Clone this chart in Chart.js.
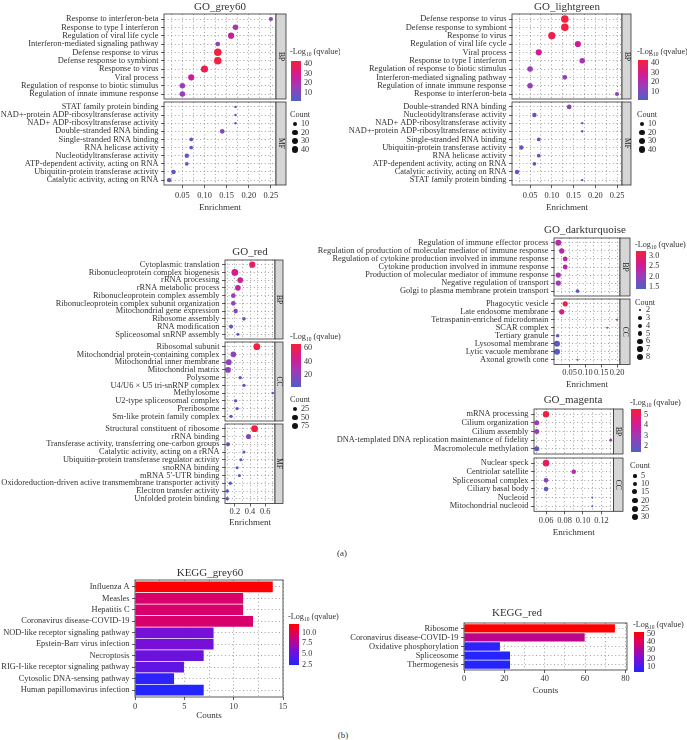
<!DOCTYPE html>
<html>
<head>
<meta charset="utf-8">
<script src="https://cdn.jsdelivr.net/npm/chart.js@4.4.1/dist/chart.umd.min.js"></script>
<style>
  body { margin: 0; background: #fff; width: 687px; height: 740px; position: relative; overflow: hidden;
         font-family: "Liberation Serif", "DejaVu Serif", serif; color: #333; }
  canvas { position: absolute; }
  .t { position: absolute; white-space: nowrap; line-height: 1; }
  .s { font-size: 5.5px; position: relative; top: 2px; }
  .dot { position: absolute; border-radius: 50%; background: #111; }
  .bar { position: absolute; }
</style>
</head>
<body>
<script>
// ---- GO_grey60 ----
const grey60BpTerms = ['Response to interferon-beta', 'Response to type I interferon', 'Regulation of viral life cycle',
  'Interferon-mediated signaling pathway', 'Defense response to virus', 'Defense response to symbiont', 'Response to virus',
  'Viral process', 'Regulation of response to biotic stimulus', 'Regulation of innate immune response'];
const grey60BpEnrich = [0.25, 0.17, 0.16, 0.13, 0.13, 0.13, 0.10, 0.07, 0.05, 0.05];
const grey60BpLogQ = [14, 19, 27, 15, 42, 42, 40, 27, 16, 16];
const grey60BpCount = [10, 22, 29, 14, 51, 51, 44, 29, 22, 22];
const grey60MfTerms = ['STAT family protein binding', 'NAD+-protein ADP-ribosyltransferase activity',
  'NAD+ ADP-ribosyltransferase activity', 'Double-stranded RNA binding', 'Single-stranded RNA binding',
  'RNA helicase activity', 'Nucleotidyltransferase activity', 'ATP-dependent activity, acting on RNA',
  'Ubiquitin-protein transferase activity', 'Catalytic activity, acting on RNA'];
const grey60MfEnrich = [0.17, 0.17, 0.17, 0.14, 0.07, 0.07, 0.06, 0.06, 0.03, 0.02];
const grey60MfLogQ = [4, 4, 4, 13, 4, 5, 5, 4, 5, 5];
const grey60MfCount = [5, 5, 5, 14, 8, 8, 12, 8, 12, 12];

// ---- GO_lightgreen ----
const lightgreenBpTerms = ['Defense response to virus', 'Defense response to symbiont', 'Response to virus',
  'Regulation of viral life cycle', 'Viral process', 'Response to type I interferon',
  'Regulation of response to biotic stimulus', 'Interferon-mediated signaling pathway',
  'Regulation of innate immune response', 'Response to interferon-beta'];
const lightgreenBpEnrich = [0.13, 0.13, 0.10, 0.16, 0.07, 0.17, 0.05, 0.13, 0.05, 0.25];
const lightgreenBpLogQ = [42, 42, 40, 27, 27, 19, 16, 15, 16, 14];
const lightgreenBpCount = [51, 51, 44, 29, 29, 22, 22, 14, 22, 10];
const lightgreenMfTerms = ['Double-stranded RNA binding', 'Nucleotidyltransferase activity',
  'NAD+ ADP-ribosyltransferase activity', 'NAD+-protein ADP-ribosyltransferase activity', 'Single-stranded RNA binding',
  'Ubiquitin-protein transferase activity', 'RNA helicase activity', 'ATP-dependent activity, acting on RNA',
  'Catalytic activity, acting on RNA', 'STAT family protein binding'];
const lightgreenMfEnrich = [0.14, 0.06, 0.17, 0.17, 0.07, 0.03, 0.07, 0.06, 0.02, 0.17];
const lightgreenMfLogQ = [13, 5, 4, 4, 4, 5, 5, 4, 5, 4];
const lightgreenMfCount = [14, 12, 5, 5, 8, 12, 8, 8, 12, 5];

// ---- GO_red ----
const redBpTerms = ['Cytoplasmic translation', 'Ribonucleoprotein complex biogenesis', 'rRNA processing',
  'rRNA metabolic process', 'Ribonucleoprotein complex assembly', 'Ribonucleoprotein complex subunit organization',
  'Mitochondrial gene expression', 'Ribosome assembly', 'RNA modification', 'Spliceosomal snRNP assembly'];
const redBpEnrich = [0.43, 0.20, 0.27, 0.24, 0.18, 0.18, 0.21, 0.32, 0.15, 0.24];
const redBpLogQ = [55, 45, 40, 36, 22, 22, 18, 10, 8, 5];
const redBpCount = [57, 74, 43, 43, 27, 27, 24, 13, 18, 8];
const redCcTerms = ['Ribosomal subunit', 'Mitochondrial protein-containing complex', 'Mitochondrial inner membrane',
  'Mitochondrial matrix', 'Polysome', 'U4/U6 × U5 tri-snRNP complex', 'Methylosome', 'U2-type spliceosomal complex',
  'Preribosome', 'Sm-like protein family complex'];
const redCcEnrich = [0.49, 0.18, 0.12, 0.11, 0.27, 0.32, 0.70, 0.21, 0.23, 0.15];
const redCcLogQ = [65, 22, 20, 20, 6, 6, 4, 6, 6, 6];
const redCcCount = [74, 43, 47, 47, 11, 11, 6, 11, 11, 11];
const redMfTerms = ['Structural constituent of ribosome', 'rRNA binding', 'Transferase activity, transferring one-carbon groups',
  'Catalytic activity, acting on a rRNA', 'Ubiquitin-protein transferase regulator activity', 'snoRNA binding',
  'mRNA 5′-UTR binding', 'Oxidoreduction-driven active transmembrane transporter activity', 'Electron transfer activity',
  'Unfolded protein binding'];
const redMfEnrich = [0.46, 0.38, 0.11, 0.32, 0.28, 0.23, 0.26, 0.14, 0.10, 0.10];
const redMfLogQ = [64, 18, 6, 5, 4, 4, 4, 5, 5, 5];
const redMfCount = [74, 34, 18, 8, 8, 8, 8, 11, 11, 11];

// ---- GO_darkturquoise ----
const turqBpTerms = ['Regulation of immune effector process', 'Regulation of production of molecular mediator of immune response',
  'Regulation of cytokine production involved in immune response', 'Cytokine production involved in immune response',
  'Production of molecular mediator of immune response', 'Negative regulation of transport',
  'Golgi to plasma membrane protein transport'];
const turqBpEnrich = [0.014, 0.025, 0.036, 0.036, 0.014, 0.014, 0.075];
const turqBpLogQ = [2.3, 2.35, 2.4, 2.4, 2.2, 2.1, 1.5];
const turqBpCount = [8, 6, 5, 5, 6, 6, 3];
const turqCcTerms = ['Phagocytic vesicle', 'Late endosome membrane', 'Tetraspanin-enriched microdomain', 'SCAR complex',
  'Tertiary granule', 'Lysosomal membrane', 'Lytic vacuole membrane', 'Axonal growth cone'];
const turqCcEnrich = [0.036, 0.025, 0.20, 0.169, 0.012, 0.01, 0.01, 0.075];
const turqCcLogQ = [3.15, 2.7, 2.2, 2.2, 1.6, 1.5, 1.5, 1.45];
const turqCcCount = [6, 6, 2, 2, 3, 8, 8, 2];

// ---- GO_magenta ----
const magentaBpTerms = ['mRNA processing', 'Cilium organization', 'Cilium assembly',
  'DNA-templated DNA replication maintenance of fidelity', 'Macromolecule methylation'];
const magentaBpEnrich = [0.06, 0.05, 0.05, 0.13, 0.05];
const magentaBpLogQ = [5.4, 3.0, 2.9, 2.6, 1.8];
const magentaBpCount = [28, 15, 15, 4, 15];
const magentaCcTerms = ['Nuclear speck', 'Centriolar satellite', 'Spliceosomal complex', 'Ciliary basal body',
  'Nucleoid', 'Mitochondrial nucleoid'];
const magentaCcEnrich = [0.06, 0.09, 0.06, 0.06, 0.11, 0.11];
const magentaCcLogQ = [5.0, 3.4, 2.5, 1.7, 1.5, 1.5];
const magentaCcCount = [31, 12, 13, 12, 3, 3];

// ---- KEGG ----
const keggGreyTerms = ['Influenza A', 'Measles', 'Hepatitis C', 'Coronavirus disease-COVID-19',
  'NOD-like receptor signaling pathway', 'Epstein-Barr virus infection', 'Necroptosis',
  'RIG-I-like receptor signaling pathway', 'Cytosolic DNA-sensing pathway', 'Human papillomavirus infection'];
const keggGreyCounts = [14, 11, 11, 12, 8, 8, 7, 5, 4, 7];
const keggGreyLogQ = [11.9, 9.3, 9.3, 9.3, 5.6, 5.6, 5.2, 4.8, 2.8, 2.4];
const keggRedTerms = ['Ribosome', 'Coronavirus disease-COVID-19', 'Oxidative phosphorylation', 'Spliceosome', 'Thermogenesis'];
const keggRedCounts = [75, 60, 18, 23, 23];
const keggRedLogQ = [52, 33, 6, 4, 4];

// ---- helpers ----
const FONT = "'Liberation Serif', 'DejaVu Serif', serif";
const GRID = '#8a8a8a';
const LABEL = 8.4;
const dotStops = [[0, '#4f5ec6'], [0.35, '#9a3db8'], [0.62, '#cf1b99'], [1, '#f6203a']];
const barStops = [[0, '#2424ff'], [0.35, '#7a0fd6'], [0.72, '#d8006a'], [1, '#ff0000']];
Chart.defaults.font.family = FONT;
Chart.defaults.color = '#333';

const hexRgb = h => [1, 3, 5].map(i => parseInt(h.slice(i, i + 2), 16));
function colorAt(stops, t) {
  t = Math.max(0, Math.min(1, t));
  for (let i = 1; i < stops.length; i++) {
    if (t <= stops[i][0]) {
      const [t0, c0] = stops[i - 1], [t1, c1] = stops[i];
      const k = (t - t0) / (t1 - t0), a = hexRgb(c0), b = hexRgb(c1);
      return `rgb(${a.map((v, j) => Math.round(v + (b[j] - v) * k)).join(',')})`;
    }
  }
  return stops[stops.length - 1][1];
}
const colorFor = (v, lim, stops) => colorAt(stops, (v - lim[0]) / (lim[1] - lim[0]));
const radiusFor = (c, s) => s.rMin + (s.rMax - s.rMin) * Math.sqrt(Math.max(0, Math.min(1, (c - s.cMin) / (s.cMax - s.cMin))));

function txt(html, x, y, size, align) {
  const d = document.createElement('div');
  d.className = 't';
  d.innerHTML = html;
  d.style.left = x + 'px';
  d.style.top = y + 'px';
  d.style.fontSize = size + 'px';
  const tx = align === 'center' ? '-50%' : align === 'right' ? '-100%' : '0';
  d.style.transform = `translate(${tx}, -50%)`;
  document.body.appendChild(d);
  return d;
}
function mkCanvas(left, top, w, h) {
  const c = document.createElement('canvas');
  c.width = Math.round(w); c.height = Math.round(h);
  c.style.left = left + 'px'; c.style.top = top + 'px';
  document.body.appendChild(c);
  return c;
}

// panel border + facet strip
const framePlugin = {
  id: 'frame',
  afterDraw(chart, args, o) {
    const {ctx, chartArea: a} = chart;
    ctx.save();
    ctx.strokeStyle = '#333';
    ctx.lineWidth = 0.8;
    ctx.strokeRect(a.left, a.top, a.right - a.left, a.bottom - a.top);
    if (o.strip) {
      ctx.fillStyle = '#d6d6d6';
      ctx.fillRect(a.right, a.top, o.stripW, a.bottom - a.top);
      ctx.strokeRect(a.right, a.top, o.stripW, a.bottom - a.top);
      ctx.translate(a.right + o.stripW / 2, (a.top + a.bottom) / 2);
      ctx.rotate(Math.PI / 2);
      ctx.fillStyle = '#222';
      ctx.font = `7.5px ${FONT}`;
      ctx.textAlign = 'center';
      ctx.textBaseline = 'middle';
      ctx.fillText(o.strip, 0, 0);
    }
    ctx.restore();
  }
};
Chart.register(framePlugin);

function xScale(p, show, axisH) {
  const all = p.majors.concat(p.minors).sort((a, b) => a - b);
  return {
    type: 'linear', bounds: 'data', min: p.xMin, max: p.xMax,
    afterBuildTicks: s => { s.ticks = all.map(v => ({value: v})); },
    afterFit: s => { s.height = axisH; },
    grid: {color: GRID, lineWidth: 0.8, drawTicks: show, tickLength: 3,
      tickColor: c => (c.tick && p.majors.includes(c.tick.value)) ? '#333' : 'rgba(0,0,0,0)'},
    border: {display: false, dash: [1, 2.6]},
    ticks: {display: show, padding: p.tickPad, font: {size: LABEL}, color: '#333', maxRotation: 0, autoSkip: false,
      callback: v => p.majors.includes(v) ? p.fmt(v) : ''},
    title: {display: show, text: p.xTitle, font: {size: 9}, color: '#333', padding: 0}
  };
}
function yScale(terms, labelW) {
  return {
    type: 'linear', bounds: 'data', reverse: true, min: -0.6, max: terms.length - 0.4, offset: false,
    afterBuildTicks: s => { s.ticks = terms.map((t, i) => ({value: i})); },
    afterFit: s => { s.width = labelW; },
    grid: {color: GRID, lineWidth: 0.8, offset: false, drawTicks: true, tickLength: 3, tickColor: '#333'},
    border: {display: false, dash: [1, 2.6]},
    ticks: {autoSkip: false, padding: 2.5, font: {size: LABEL}, color: '#333', callback: v => terms[v]}
  };
}

function dotFacet(p, f, isLast) {
  const padTop = 10, padBot = isLast ? 1 : 10, padRight = p.stripW + 4;
  const labelW = p.plotLeft - p.canvasLeft;
  const plotW = p.plotRight - p.plotLeft, plotH = f.bottom - f.top;
  const axisH = isLast ? p.axisH : 0;
  const cv = mkCanvas(p.canvasLeft, f.top - padTop, labelW + plotW + padRight, padTop + plotH + axisH + padBot);
  new Chart(cv, {
    type: 'bubble',
    data: {datasets: [{
      data: f.terms.map((t, i) => ({x: f.enrich[i], y: i, r: radiusFor(f.count[i], p.size)})),
      backgroundColor: f.logq.map(v => colorFor(v, p.lim, dotStops)),
      borderWidth: 0
    }]},
    options: {
      responsive: false, animation: false, events: [],
      layout: {padding: {top: padTop, bottom: padBot, left: 0, right: padRight}},
      plugins: {legend: {display: false}, tooltip: {enabled: false}, frame: {strip: f.name, stripW: p.stripW}},
      scales: {x: xScale(p, isLast, axisH), y: yScale(f.terms, labelW)}
    }
  });
}

function barPanel(p) {
  const padTop = 10, padBot = 1, padRight = 8;
  const labelW = p.plotLeft - p.canvasLeft;
  const cv = mkCanvas(p.canvasLeft, p.top - padTop, labelW + p.plotRight - p.plotLeft + padRight,
    padTop + p.bottom - p.top + p.axisH + padBot);
  new Chart(cv, {
    type: 'bar',
    data: {datasets: [{
      data: p.terms.map((t, i) => ({x: p.counts[i], y: i})),
      backgroundColor: p.logq.map(v => colorFor(v, p.lim, barStops)),
      borderColor: 'rgba(255,255,255,0.75)', borderWidth: 0.7,
      barPercentage: 1, categoryPercentage: 1
    }]},
    options: {
      indexAxis: 'y', responsive: false, animation: false, events: [],
      layout: {padding: {top: padTop, bottom: padBot, left: 0, right: padRight}},
      plugins: {legend: {display: false}, tooltip: {enabled: false}, frame: {}},
      scales: {x: xScale(p, true, p.axisH), y: yScale(p.terms, labelW)}
    }
  });
}

function colorLegend(o) {
  const t = txt('-Log<span class="s">10</span> (qvalue)', o.x, o.titleY, 8.2, 'left');
  if (o.clipW) { t.style.width = o.clipW + 'px'; t.style.overflow = 'hidden'; }
  const bar = document.createElement('div');
  bar.className = 'bar';
  const grad = [];
  for (let i = 0; i <= 10; i++) grad.push(colorAt(o.stops, i / 10) + ' ' + (i * 10) + '%');
  Object.assign(bar.style, {left: (o.x + 1) + 'px', top: o.barTop + 'px', width: '10px',
    height: (o.barBottom - o.barTop) + 'px', background: `linear-gradient(to top, ${grad.join(',')})`});
  document.body.appendChild(bar);
  o.breaks.forEach(b => {
    const y = o.barBottom - (b - o.lim[0]) / (o.lim[1] - o.lim[0]) * (o.barBottom - o.barTop);
    txt(o.fmt ? o.fmt(b) : String(b), o.x + 14, y, 8.2, 'left');
  });
}
function sizeLegend(o) {
  txt('Count', o.x, o.titleY, 8.2, 'left');
  o.breaks.forEach((b, i) => {
    const r = radiusFor(b, o.size);
    const d = document.createElement('div');
    d.className = 'dot';
    Object.assign(d.style, {left: (o.x + 5 - r) + 'px', top: (o.ys[i] - r) + 'px', width: 2 * r + 'px', height: 2 * r + 'px'});
    document.body.appendChild(d);
    txt(String(b), o.x + 11, o.ys[i], 8.2, 'left');
  });
}

// ---- build ----
const f2 = v => v.toFixed(2);
const greySize = {cMin: 5, cMax: 55, rMin: 1.2, rMax: 3.9};

const grey60 = {canvasLeft: 0, plotLeft: 164, plotRight: 276, stripW: 10, xMin: 0.0085, xMax: 0.2615,
  majors: [0.05, 0.10, 0.15, 0.20, 0.25], minors: [0.025, 0.075, 0.125, 0.175, 0.225], fmt: f2,
  tickPad: 3, axisH: 28, xTitle: 'Enrichment', lim: [2, 43], size: greySize};
dotFacet(grey60, {name: 'BP', top: 14, bottom: 99, terms: grey60BpTerms, enrich: grey60BpEnrich, logq: grey60BpLogQ, count: grey60BpCount}, false);
dotFacet(grey60, {name: 'MF', top: 102, bottom: 185, terms: grey60MfTerms, enrich: grey60MfEnrich, logq: grey60MfLogQ, count: grey60MfCount}, true);
txt('GO_grey60', 220, 6, 11, 'center');
colorLegend({x: 290, titleY: 52, barTop: 61, barBottom: 101, lim: grey60.lim, breaks: [10, 20, 30, 40], stops: dotStops, clipW: 50});
sizeLegend({x: 290, titleY: 115, ys: [124, 132.5, 141, 149.5], breaks: [10, 20, 30, 40], size: greySize});

const lightgreen = Object.assign({}, grey60, {canvasLeft: 320, plotLeft: 512, plotRight: 622, stripW: 9});
dotFacet(lightgreen, {name: 'BP', top: 14, bottom: 99, terms: lightgreenBpTerms, enrich: lightgreenBpEnrich, logq: lightgreenBpLogQ, count: lightgreenBpCount}, false);
dotFacet(lightgreen, {name: 'MF', top: 102, bottom: 185, terms: lightgreenMfTerms, enrich: lightgreenMfEnrich, logq: lightgreenMfLogQ, count: lightgreenMfCount}, true);
txt('GO_lightgreen', 567, 6, 11, 'center');
colorLegend({x: 637, titleY: 52, barTop: 60, barBottom: 100, lim: lightgreen.lim, breaks: [10, 20, 30, 40], stops: dotStops});
sizeLegend({x: 637, titleY: 115, ys: [124, 132.5, 141, 149.5], breaks: [10, 20, 30, 40], size: greySize});

const redSize = {cMin: 5, cMax: 80, rMin: 1, rMax: 3.5};
const red = {canvasLeft: 0, plotLeft: 225, plotRight: 275, stripW: 8, xMin: 0.07, xMax: 0.73,
  majors: [0.2, 0.4, 0.6], minors: [0.1, 0.3, 0.5, 0.7], fmt: v => v.toFixed(1),
  tickPad: 0.5, axisH: 24.5, xTitle: 'Enrichment', lim: [1.4, 66.5], size: redSize};
dotFacet(red, {name: 'BP', top: 260, bottom: 339, terms: redBpTerms, enrich: redBpEnrich, logq: redBpLogQ, count: redBpCount}, false);
dotFacet(red, {name: 'CC', top: 342, bottom: 421, terms: redCcTerms, enrich: redCcEnrich, logq: redCcLogQ, count: redCcCount}, false);
dotFacet(red, {name: 'MF', top: 424, bottom: 503, terms: redMfTerms, enrich: redMfEnrich, logq: redMfLogQ, count: redMfCount}, true);
txt('GO_red', 250, 251, 11, 'center');
colorLegend({x: 290, titleY: 337, barTop: 344, barBottom: 387, lim: red.lim, breaks: [20, 40, 60], stops: dotStops});
sizeLegend({x: 290, titleY: 400, ys: [409, 417.5, 426], breaks: [25, 50, 75], size: redSize});

const turqSize = {cMin: 2, cMax: 8, rMin: 1, rMax: 3};
const turq = {canvasLeft: 290, plotLeft: 554, plotRight: 620, stripW: 10, xMin: 0.0005, xMax: 0.2095,
  majors: [0.05, 0.10, 0.15, 0.20], minors: [0.025, 0.075, 0.125, 0.175], fmt: f2,
  tickPad: 0, axisH: 25.5, xTitle: 'Enrichment', lim: [1.41, 3.22], size: turqSize};
dotFacet(turq, {name: 'BP', top: 237.5, bottom: 295.5, terms: turqBpTerms, enrich: turqBpEnrich, logq: turqBpLogQ, count: turqBpCount}, false);
dotFacet(turq, {name: 'CC', top: 298.5, bottom: 363.5, terms: turqCcTerms, enrich: turqCcEnrich, logq: turqCcLogQ, count: turqCcCount}, true);
txt('GO_darkturquoise', 585, 229, 11, 'center');
colorLegend({x: 635, titleY: 245, barTop: 251, barBottom: 289, lim: turq.lim, breaks: [1.5, 2.0, 2.5, 3.0], stops: dotStops, fmt: v => v.toFixed(1)});
sizeLegend({x: 635, titleY: 302.7, ys: [310, 318, 326, 333.7, 341.3, 349, 357], breaks: [2, 3, 4, 5, 6, 7, 8], size: turqSize});

const magentaSize = {cMin: 3, cMax: 31, rMin: 1, rMax: 3.3};
const magenta = {canvasLeft: 300, plotLeft: 534, plotRight: 613, stripW: 9.5, xMin: 0.047, xMax: 0.133,
  majors: [0.06, 0.08, 0.10, 0.12], minors: [0.05, 0.07, 0.09, 0.11, 0.13], fmt: f2,
  tickPad: 1.5, axisH: 26.7, xTitle: 'Enrichment', lim: [1.42, 5.58], size: magentaSize};
dotFacet(magenta, {name: 'BP', top: 409.3, bottom: 454.3, terms: magentaBpTerms, enrich: magentaBpEnrich, logq: magentaBpLogQ, count: magentaBpCount}, false);
dotFacet(magenta, {name: 'CC', top: 457.7, bottom: 510.7, terms: magentaCcTerms, enrich: magentaCcEnrich, logq: magentaCcLogQ, count: magentaCcCount}, true);
txt('GO_magenta', 573, 399, 11, 'center');
colorLegend({x: 630, titleY: 403, barTop: 409, barBottom: 452, lim: magenta.lim, breaks: [2, 3, 4, 5], stops: dotStops});
sizeLegend({x: 630, titleY: 465.7, ys: [476, 484, 492, 500.5, 508.7, 517], breaks: [5, 10, 15, 20, 25, 30], size: magentaSize});

txt('(a)', 342, 553, 9, 'center');

barPanel({canvasLeft: 0, plotLeft: 135, plotRight: 283, top: 580, bottom: 697, xMin: 0, xMax: 15,
  majors: [0, 5, 10, 15], minors: [2.5, 7.5, 12.5], fmt: v => String(v), tickPad: 2.2, axisH: 24, xTitle: 'Counts',
  lim: [2.4, 12], terms: keggGreyTerms, counts: keggGreyCounts, logq: keggGreyLogQ});
txt('KEGG_grey60', 210, 572, 11, 'center');
colorLegend({x: 288, titleY: 617, barTop: 624, barBottom: 665, lim: [2.4, 12], breaks: [2.5, 5, 7.5, 10], stops: barStops, fmt: v => v.toFixed(1)});

barPanel({canvasLeft: 345, plotLeft: 464, plotRight: 627, top: 623, bottom: 670, xMin: 0, xMax: 80.8,
  majors: [0, 20, 40, 60, 80], minors: [10, 30, 50, 70], fmt: v => String(v), tickPad: 1.2, axisH: 26, xTitle: 'Counts',
  lim: [4, 52], terms: keggRedTerms, counts: keggRedCounts, logq: keggRedLogQ});
txt('KEGG_red', 517, 612, 11, 'center');
colorLegend({x: 633, titleY: 625, barTop: 632, barBottom: 672, lim: [4, 52], breaks: [10, 20, 30, 40, 50], stops: barStops});

txt('(b)', 343, 735, 9, 'center');
</script>
</body>
</html>
